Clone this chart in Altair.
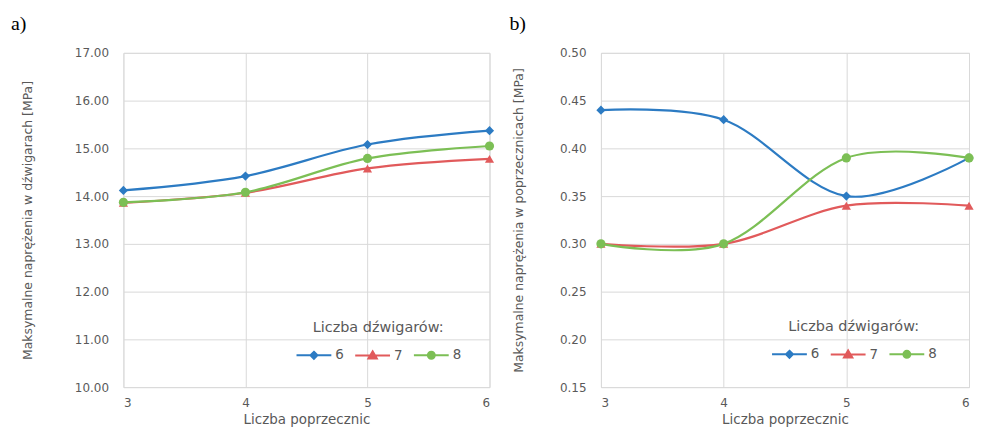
import altair as alt
import pandas as pd

# ---- data ----
poprzecznice = [3, 4, 5, 6]
serie = ["6", "7", "8"]

# a) Maksymalne naprężenia w dźwigarach [MPa]
a_6 = [14.12, 14.42, 15.08, 15.37]
a_7 = [13.86, 14.07, 14.58, 14.78]
a_8 = [13.87, 14.08, 14.79, 15.05]

# b) Maksymalne naprężenia w poprzecznicach [MPa]
b_6 = [0.44, 0.43, 0.35, 0.39]
b_7 = [0.30, 0.30, 0.34, 0.34]
b_8 = [0.30, 0.30, 0.39, 0.39]

ticks_a = [10.0, 11.0, 12.0, 13.0, 14.0, 15.0, 16.0, 17.0]
ticks_b = [0.15, 0.20, 0.25, 0.30, 0.35, 0.40, 0.45, 0.50]

colors = ["#2C7BC3", "#E15A5B", "#7CBF55"]
marker_shapes = {"6": "diamond", "7": "triangle-up", "8": "circle"}
legend_paths = [
    "M-1,0H1M0,-0.2L0.2,0L0,0.2L-0.2,0Z",
    "M-1,0H1M0,-0.24L0.24,0.17L-0.24,0.17Z",
    "M-1,0H1M-0.2,0A0.2,0.2,0,1,0,0.2,0A0.2,0.2,0,1,0,-0.2,0Z",
]

TXT = "#595959"
GRID = "#D9D9D9"
FONT = "DejaVu Sans"


def long_df(s6, s7, s8):
    rows = []
    for name, vals in zip(serie, [s6, s7, s8]):
        for xv, yv in zip(poprzecznice, vals):
            rows.append({"poprzecznice": xv, "seria": name, "val": yv})
    return pd.DataFrame(rows)


def panel(df, ydom, yticks, ytitle, tag, width, lx, ly, tag_dx, ytp):
    x = alt.X(
        "poprzecznice:Q",
        scale=alt.Scale(domain=[3, 6], nice=False, zero=False),
        axis=alt.Axis(
            values=poprzecznice, format="d", title="Liczba poprzecznic",
            grid=True, gridColor=GRID, domain=False, ticks=False, tickSize=0,
            labelPadding=10, titlePadding=5, labelFontSize=12, titleFontSize=13.5,
            labelFont=FONT, titleFont=FONT, labelColor=TXT, titleColor=TXT,
            titleFontWeight="normal",
        ),
    )
    y = alt.Y(
        "val:Q",
        scale=alt.Scale(domain=ydom, nice=False, zero=False),
        axis=alt.Axis(
            values=yticks, format=".2f", title=ytitle,
            grid=True, gridColor=GRID, domain=False, ticks=False, tickSize=0,
            labelPadding=15, titlePadding=ytp, labelFontSize=12, titleFontSize=12.5,
            labelFont=FONT, titleFont=FONT, labelColor=TXT, titleColor=TXT,
            titleFontWeight="normal",
        ),
    )
    leg = alt.Legend(
        title="Liczba dźwigarów:", orient="none", legendX=lx, legendY=ly,
        direction="horizontal", titleFont=FONT, titleFontSize=14.5,
        titleFontWeight="normal", titleColor=TXT, titleAnchor="middle",
        titlePadding=1, labelFont=FONT, labelFontSize=13.5, labelColor=TXT,
        labelOffset=3, columnPadding=7, symbolSize=1225, symbolStrokeWidth=2,
        symbolOpacity=1, padding=0,
    )
    hidden_color = alt.Color("seria:N", scale=alt.Scale(range=colors), legend=None)
    lscale = alt.Scale(domain=serie, range=colors)
    base = alt.Chart(df)
    lines = base.mark_line(interpolate="cardinal", strokeWidth=2.2).encode(
        x=x, y=y, color=hidden_color
    )
    layers = [lines]
    for s in serie:
        layers.append(
            base.transform_filter(alt.datum.seria == s)
            .mark_point(shape=marker_shapes[s], filled=True, size=85, opacity=1)
            .encode(x=x, y=y, color=hidden_color)
        )
    legend_layer = base.mark_point(filled=True, opacity=0).encode(
        x=x, y=y,
        fill=alt.Fill("seria:N", scale=lscale, legend=leg),
        stroke=alt.Stroke("seria:N", scale=lscale, legend=leg),
        shape=alt.Shape("seria:N", scale=alt.Scale(domain=serie, range=legend_paths), legend=leg),
    )
    layers.append(legend_layer)
    return alt.layer(*layers).properties(
        width=width, height=336,
        title=alt.TitleParams(
            tag, anchor="start", frame="group", dx=tag_dx, offset=13,
            font="Liberation Serif", fontSize=20, fontWeight="normal", color="black",
        ),
    )


pa = panel(long_df(a_6, a_7, a_8), [10, 17], ticks_a,
           "Maksymalne naprężenia w dźwigarach [MPa]", "a)", 368, 173, 270, -113, 40)
pb = panel(long_df(b_6, b_7, b_8), [0.15, 0.50], ticks_b,
           "Maksymalne naprężenia w poprzecznicach [MPa]", "b)", 370, 171, 269, -92, 34)

chart = (
    alt.hconcat(pa, pb, spacing=13)
    .resolve_scale(color="independent", fill="independent", stroke="independent", shape="independent")
    .resolve_legend(fill="independent", stroke="independent", shape="independent", color="independent")
    .properties(padding={"left": 2, "top": 4, "right": 0, "bottom": 0})
    .configure_view(stroke=GRID, strokeWidth=1)
    .configure(background="white")
)

chart.save("out.html", embed_options={"renderer": "svg", "actions": False})
